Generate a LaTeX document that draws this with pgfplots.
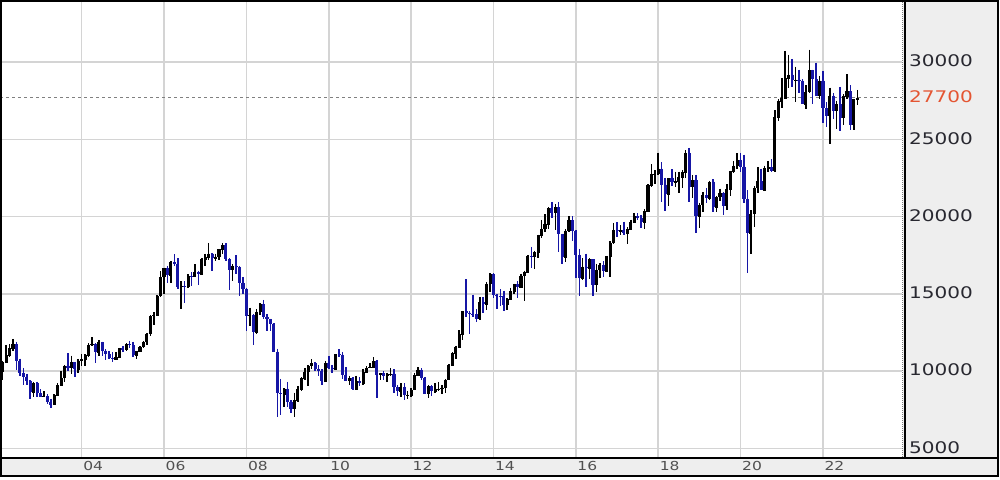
\documentclass[border=0pt]{standalone}
\usepackage{pgfplots}
\pgfplotsset{compat=1.18}
\usepackage{pgfplotstable}
\usepackage{fontspec}
\newfontfamily\labfont[FakeStretch=1.25]{DejaVu Sans}
\definecolor{candleblue}{RGB}{22,22,165}
\definecolor{gridgray}{RGB}{212,212,212}
\definecolor{stripgray}{RGB}{238,238,238}
\definecolor{lastred}{RGB}{228,85,50}
\definecolor{ylabgray}{RGB}{40,40,48}
\definecolor{xlabgray}{RGB}{80,80,80}

% Monthly candles: m = months since Jan 2002
\pgfplotstableread{
m o h l c
0 10543 10890 9420 9998
1 9998 10680 9420 10588
2 10588 11690 10500 11025
3 11025 11720 10900 11493
4 11493 12081 11300 11764
5 11764 11900 10060 10622
6 10622 10800 9700 9878
7 9878 10200 9075 9619
8 9619 9830 9075 9383
9 9383 9400 8197 8640
10 8640 9300 8300 9216
11 9216 9320 8300 8579
12 8579 8810 8300 8340
13 8340 8700 8300 8363
14 8363 8500 7860 7973
15 7973 8200 7603 7831
16 7831 8500 7800 8425
17 8425 9200 8400 9083
18 9083 10000 9000 9563
19 9563 10400 9300 10344
20 10344 11160 10000 10219
21 10219 11000 9800 10560
22 10560 10600 9600 10101
23 10101 10780 9900 10677
24 10677 11100 10300 10784
25 10784 11100 10300 11042
26 11042 11800 10900 11715
27 11715 12195 11600 11762
28 11762 11800 10500 11236
29 11236 11990 11000 11859
30 11859 11900 11000 11326
31 11326 11400 10700 11082
32 11082 11300 10800 10824
33 10824 11200 10600 10771
34 10771 11200 10700 10899
35 10899 11500 10850 11489
36 11489 11600 11200 11388
37 11388 11800 11300 11741
38 11741 11975 11500 11669
39 11669 11900 10900 11009
40 11009 11300 10770 11277
41 11277 11600 11200 11584
42 11584 11950 11500 11900
43 11900 12450 11700 12414
44 12414 13600 12300 13574
45 13574 13800 13000 13607
46 13607 14900 13600 14872
47 14872 16445 14800 16111
48 16111 16700 15000 16650
49 16650 16800 15700 16205
50 16205 17100 15700 17060
51 17060 17563 16800 16906
52 16906 17300 15300 15467
53 15467 15800 14045 15505
54 15505 15800 14400 15457
55 15457 16250 15400 16141
56 16141 16400 15500 16128
57 16128 16900 16100 16399
58 16399 16500 15600 16274
59 16274 17300 16200 17226
60 17226 17600 16800 17383
61 17383 18300 17200 17604
62 17604 17650 16500 17288
63 17288 17600 17100 17400
64 17400 17900 17200 17876
65 17876 18300 17600 18138
66 18138 18262 17100 17249
67 17249 17300 15262 16569
68 16569 16900 15800 16786
69 16786 17500 16300 16738
70 16738 16800 14837 15681
71 15681 16100 15000 15308
72 15308 15400 12573 13593
73 13593 14100 12900 13603
74 13603 13700 11691 12526
75 12526 14000 12400 13850
76 13850 14400 13600 14339
77 14339 14601 13400 13481
78 13481 13700 12600 13377
79 13377 13400 12600 13073
80 13073 13100 11200 11260
81 11260 11456 6995 8577
82 8577 9500 7160 8512
83 8512 8900 7700 8860
84 8860 9300 7700 7994
85 7994 8100 7300 7568
86 7568 8600 7021 8110
87 8110 9000 8000 8828
88 8828 9600 8700 9523
89 9523 10170 9400 9958
90 9958 10400 9050 10357
91 10357 10767 10100 10493
92 10493 10600 10000 10133
93 10133 10400 9700 10035
94 10035 10100 9076 9346
95 9346 10650 9300 10546
96 10546 10982 10150 10198
97 10198 10400 9867 10126
98 10126 11100 10100 11090
99 11090 11408 10900 11057
100 11057 11200 9500 9769
101 9769 10250 9380 9383
102 9383 9700 9091 9537
103 9537 9600 8796 8824
104 8824 9700 8800 9369
105 9369 9600 9000 9202
106 9202 10150 9100 9937
107 9937 10300 9900 10229
108 10229 10530 10200 10238
109 10238 10891 10250 10624
110 10624 10700 8227 9755
111 9755 9900 9400 9850
112 9850 10017 9400 9694
113 9694 9900 9300 9816
114 9816 10200 9700 9833
115 9833 10100 8600 8955
116 8955 9100 8400 8700
117 8700 9200 8300 8988
118 8988 9200 8135 8435
119 8435 8700 8200 8455
120 8455 8900 8350 8803
121 8803 9900 8800 9723
122 9723 10255 9700 10084
123 10084 10190 9400 9521
124 9521 9600 8500 8543
125 8543 9100 8238 9007
126 9007 9100 8400 8695
127 8695 9200 8600 8840
128 8840 9300 8700 8870
129 8870 9100 8500 8928
130 8928 9500 8600 9446
131 9446 10450 9400 10395
132 10395 11200 10300 11139
133 11139 11650 10800 11559
134 11559 12650 11500 12398
135 12398 13900 12000 13861
136 13861 15942 13500 13775
137 13775 13900 12415 13677
138 13677 14950 13500 13668
139 13668 14000 13200 13389
140 13389 14800 13300 14456
141 14456 14800 13750 14328
142 14328 15750 13950 15662
143 15662 16320 15100 16291
144 16291 16320 14700 14915
145 14915 15000 13995 14841
146 14841 15300 14200 14828
147 14828 15200 13885 14304
148 14304 14700 13965 14632
149 14632 15400 14600 15162
150 15162 15650 15000 15621
151 15621 15800 14700 15425
152 15425 16300 15400 16174
153 16174 16500 14529 16414
154 16414 17520 16400 17460
155 17460 18030 16672 17451
156 17451 17800 16592 17674
157 17674 18830 17300 18798
158 18798 19778 18600 19207
159 19207 20133 19000 19520
160 19520 20600 19200 20563
161 20563 20952 19900 20236
162 20236 20800 19115 20585
163 20585 20946 17714 18890
164 18890 18900 16901 17388
165 17388 19200 17050 19083
166 19083 20012 19000 19748
167 19748 20012 18400 19034
168 19034 19100 16017 17518
169 17518 17900 14865 16027
170 16027 17300 15900 16759
171 16759 17600 15471 16666
172 16666 17300 15975 17235
173 17235 17250 14864 15576
174 15576 16938 15100 16569
175 16569 17000 16000 16887
176 16887 17100 16100 16450
177 16450 17450 16400 17425
178 17425 18400 16111 18308
179 18308 19592 18200 19114
180 19114 19615 18650 19041
181 19041 19450 18805 19119
182 19119 19668 18800 18909
183 18909 19300 18224 19197
184 19197 19800 19100 19651
185 19651 20230 19600 20033
186 20033 20200 19800 19925
187 19925 20100 19280 19646
188 19646 20500 19200 20356
189 20356 22100 20300 22012
190 22012 23382 21900 22725
191 22725 23000 22100 22765
192 22765 24129 22700 23098
193 23098 23500 20950 22068
194 22068 22500 20347 21454
195 21454 22500 20700 22468
196 22468 23050 22000 22202
197 22202 22900 21900 22305
198 22305 22900 21500 22554
199 22554 23000 21850 22865
200 22865 24300 22500 24120
201 24120 24448 20971 21920
202 21920 22700 21200 22351
203 22351 22700 18948 20015
204 20015 20900 19241 20773
205 20773 21600 20300 21385
206 21385 21860 20900 21206
207 21206 22300 21100 22259
208 22259 22400 20300 20601
209 20601 21300 20300 21276
210 21276 21800 21000 21522
211 21522 21600 20110 20704
212 20704 22100 20400 21756
213 21756 22950 21300 22927
214 22927 23600 22800 23294
215 23294 24091 23100 23657
216 23657 24115 22900 23205
217 23205 24000 20900 21143
218 21143 21700 16358 18917
219 18917 20400 17600 20194
220 20194 21950 19300 21878
221 21878 23185 21500 22288
222 22288 23100 21700 21710
223 21710 23300 21800 23140
224 23140 23600 22900 23185
225 23185 23700 22900 22977
226 22977 26890 22900 26434
227 26434 27600 26200 27444
228 27444 28979 27000 27663
229 27663 30714 27600 28966
230 28966 30485 28300 29179
231 29179 30200 28400 28813
232 28813 29700 27385 28860
233 28860 29500 28000 28792
234 28792 28900 27272 27284
235 27284 28500 26954 28090
236 28090 30795 28000 29453
237 29453 29500 27293 28893
238 28893 29960 27800 27822
239 27822 29100 27588 28792
240 28792 29388 26044 27002
241 27002 27400 25775 26527
242 26527 28338 24681 27821
243 27821 28000 26300 26848
244 26848 27500 25688 27280
245 27280 28389 25520 26393
246 26393 27900 25900 27802
247 27802 29222 27600 28092
248 28092 28500 25621 25937
249 25937 27600 25621 27587
250 27587 28200 27200 27700
}\nikkei

\pgfplotsset{
  candle/.style n args={2}{draw=none, mark=none, forget plot,
    error bars/y dir=minus, error bars/y explicit, error bars/error mark=none,
    error bars/error bar style={draw=#1, line width=#2, solid}},
}

\begin{document}
\begin{tikzpicture}[x=0.5pt,y=-0.5pt]
\useasboundingbox (0,0) rectangle (1000,480);
\fill[white] (0,0) rectangle (1000,480);
\fill[stripgray] (903,0) rectangle (998,476);
\fill[stripgray] (0,458) rectangle (998,476);
\begin{axis}[
  at={(0,0)}, anchor=north west,
  scale only axis, width=451pt, height=229pt,
  xmin=0.2, xmax=263.03, ymin=4372, ymax=34013,
  axis line style={draw=none},
  xtick={24,48,72,96,120,144,168,192,216,240},
  xticklabels={04,06,08,10,12,14,16,18,20,22},
  ytick={5000,10000,15000,20000,25000,30000},
  yticklabels={5000,10000,15000,20000,25000,30000},
  major tick length=0pt,
  grid=major,
  major grid style={gridgray, line width=0.75pt},
  yticklabel pos=right,
  xticklabel style={anchor=north west, inner sep=0pt, text=xlabgray,
    font=\labfont\fontsize{6.2}{7}\selectfont, xshift=0.6pt, yshift=-1.6pt},
  yticklabel style={anchor=west, inner sep=0pt, text=ylabgray,
    font=\labfont\fontsize{8}{9}\selectfont, xshift=3.4pt, yshift=0.5pt},
  extra y ticks={27700},
  extra y tick labels={27700},
  extra y tick style={
    major grid style={draw=gray, line width=0.5pt, dash pattern=on 1.5pt off 1.5pt},
    yticklabel style={text=lastred}},
  clip=true,
]
% wicks of rising months
\addplot[candle={black}{0.75pt},
  restrict expr to domain={\thisrow{c}-\thisrow{o}}{0:100000}]
  table[x=m, y=h, y error minus expr={\thisrow{h}-\thisrow{l}}] {\nikkei};
% wicks of falling months
\addplot[candle={candleblue}{0.75pt},
  restrict expr to domain={\thisrow{o}-\thisrow{c}}{0.5:100000}]
  table[x=m, y=h, y error minus expr={\thisrow{h}-\thisrow{l}}] {\nikkei};
% bodies of rising months
\addplot[candle={black}{1.55pt},
  restrict expr to domain={\thisrow{c}-\thisrow{o}}{0:100000}]
  table[x=m, y=c, y error minus expr={\thisrow{c}-\thisrow{o}+40}] {\nikkei};
% bodies of falling months
\addplot[candle={candleblue}{1.55pt},
  restrict expr to domain={\thisrow{o}-\thisrow{c}}{0.5:100000}]
  table[x=m, y=o, y error minus expr={\thisrow{o}-\thisrow{c}}] {\nikkei};
\end{axis}
\draw[gray, line width=0.5pt, dash pattern=on 0.5pt off 0.5pt] (902,0) -- (902,458);
\draw[black, line width=0.7pt] (905,0) -- (905,458);
\draw[black, line width=0.8pt] (0,458) -- (998,458);
\draw[black, line width=1pt] (1,1) rectangle (998,475.5);
\end{tikzpicture}
\end{document}
